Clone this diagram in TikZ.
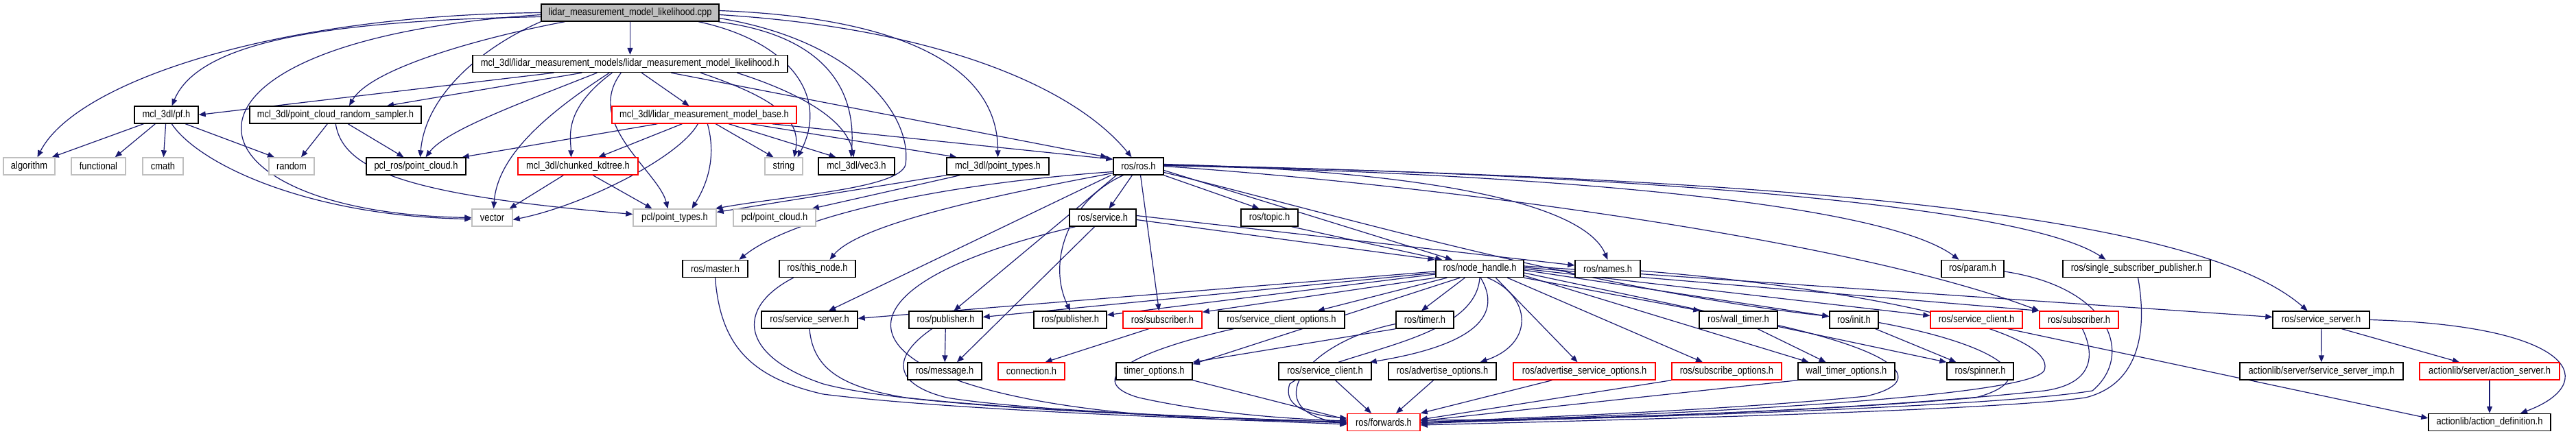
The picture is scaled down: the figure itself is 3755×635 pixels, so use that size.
\documentclass[tikz,border=0pt]{standalone}
\usepackage{fontspec}
\newfontfamily\dfont{Liberation Sans}[FakeStretch=0.86]
\usetikzlibrary{arrows.meta}
\definecolor{edgec}{RGB}{25,25,112}
\definecolor{greyb}{RGB}{191,191,191}
\pgfdeclarelayer{bg}
\pgfsetlayers{bg,main}
\tikzset{
 bx/.style={rectangle, draw, line width=1.4pt, minimum height=25pt, inner sep=0pt, fill=white, font=\dfont\fontsize{15}{18}\selectfont, text=black},
 nb/.style={bx, draw=black},
 ng/.style={bx, draw=greyb},
 nr/.style={bx, draw=red},
 nroot/.style={bx, draw=black, fill=greyb},
 e/.style={draw=edgec, line width=1.2pt, -{Triangle[length=10pt,width=8pt]}}
}
\begin{document}
\begin{tikzpicture}[x=1pt,y=-1pt]
\useasboundingbox (0,0) rectangle (3755,635);
\begin{pgfonlayer}{bg}
\fill[white] (0,0) rectangle (3755,635);
\end{pgfonlayer}
% nodes
\node[nroot, minimum width=259pt] (root) at (918.5,18.5) {lidar\_measurement\_model\_likelihood.cpp};
\node[nb, minimum width=459pt] (lmh) at (918.5,93) {mcl\_3dl/lidar\_measurement\_models/lidar\_measurement\_model\_likelihood.h};
\node[nb, minimum width=93pt] (pf) at (242.5,167.5) {mcl\_3dl/pf.h};
\node[nb, minimum width=250pt] (prs) at (489,167.5) {mcl\_3dl/point\_cloud\_random\_sampler.h};
\node[nr, minimum width=269pt] (base) at (1026.5,167.5) {mcl\_3dl/lidar\_measurement\_model\_base.h};
\node[ng, minimum width=75pt] (algorithm) at (42.5,242.5) {algorithm};
\node[ng, minimum width=79pt] (functional) at (143.5,242.5) {functional};
\node[ng, minimum width=59pt] (cmath) at (237.5,242.5) {cmath};
\node[ng, minimum width=66pt] (random) at (425,242.5) {random};
\node[nb, minimum width=145pt] (pclros) at (606.5,242.5) {pcl\_ros/point\_cloud.h};
\node[nr, minimum width=175pt] (kdtree) at (842.5,242.5) {mcl\_3dl/chunked\_kdtree.h};
\node[ng, minimum width=55pt] (string) at (1142.5,242.5) {string};
\node[nb, minimum width=111pt] (vec3) at (1248.5,242.5) {mcl\_3dl/vec3.h};
\node[nb, minimum width=149pt] (mpt) at (1454.5,242.5) {mcl\_3dl/point\_types.h};
\node[nb, minimum width=73pt] (ros) at (1659.5,242.5) {ros/ros.h};
\node[ng, minimum width=59pt] (vector) at (717.5,317.5) {vector};
\node[ng, minimum width=121pt] (pclpt) at (983.5,317.5) {pcl/point\_types.h};
\node[ng, minimum width=120pt] (pclpc) at (1129,317.5) {pcl/point\_cloud.h};
\node[nb, minimum width=97pt] (service) at (1607.5,317.5) {ros/service.h};
\node[nb, minimum width=83pt] (topic) at (1850.5,317.5) {ros/topic.h};
\node[nb, minimum width=95pt] (master) at (1042.5,392) {ros/master.h};
\node[nb, minimum width=111pt] (thisnode) at (1191.5,392) {ros/this\_node.h};
\node[nb, minimum width=128pt] (nh) at (2157,392) {ros/node\_handle.h};
\node[nb, minimum width=95pt] (names) at (2343.5,392) {ros/names.h};
\node[nb, minimum width=91pt] (param) at (2875.5,392) {ros/param.h};
\node[nb, minimum width=215pt] (ssp) at (3114.5,392) {ros/single\_subscriber\_publisher.h};
\node[nb, minimum width=140pt] (ssA) at (1180,466.5) {ros/service\_server.h};
\node[nb, minimum width=107pt] (pubA) at (1378.5,466.5) {ros/publisher.h};
\node[nb, minimum width=106pt] (pubB) at (1560,466.5) {ros/publisher.h};
\node[nr, minimum width=115pt] (subA) at (1694.5,466.5) {ros/subscriber.h};
\node[nb, minimum width=184pt] (sco) at (1868,466.5) {ros/service\_client\_options.h};
\node[nb, minimum width=84pt] (timer) at (2077,466.5) {ros/timer.h};
\node[nb, minimum width=114pt] (wtimer) at (2534,466.5) {ros/wall\_timer.h};
\node[nb, minimum width=71pt] (init) at (2702.5,466.5) {ros/init.h};
\node[nr, minimum width=134pt] (scB) at (2881,466.5) {ros/service\_client.h};
\node[nr, minimum width=115pt] (subB) at (3030.5,466.5) {ros/subscriber.h};
\node[nb, minimum width=141pt] (ssB) at (3383.5,466.5) {ros/service\_server.h};
\node[nb, minimum width=108pt] (message) at (1377,541.5) {ros/message.h};
\node[nr, minimum width=97pt] (connection) at (1503.5,541.5) {connection.h};
\node[nb, minimum width=111pt] (timeropt) at (1682.5,541.5) {timer\_options.h};
\node[nb, minimum width=135pt] (scA) at (1931.5,541.5) {ros/service\_client.h};
\node[nb, minimum width=157pt] (advopt) at (2102.5,541.5) {ros/advertise\_options.h};
\node[nr, minimum width=207pt] (advsrv) at (2309.5,541.5) {ros/advertise\_service\_options.h};
\node[nr, minimum width=160pt] (subopt) at (2517,541.5) {ros/subscribe\_options.h};
\node[nb, minimum width=141pt] (wtopt) at (2691.5,541.5) {wall\_timer\_options.h};
\node[nb, minimum width=97pt] (spinner) at (2886.5,541.5) {ros/spinner.h};
\node[nb, minimum width=238pt] (ssimp) at (3384,541.5) {actionlib/server/service\_server\_imp.h};
\node[nr, minimum width=204pt] (actsrv) at (3629,541.5) {actionlib/server/action\_server.h};
\node[nr, minimum width=106pt] (fwd) at (2017,616) {ros/forwards.h};
\node[nb, minimum width=178pt] (actdef) at (3629,616) {actionlib/action\_definition.h};

\begin{pgfonlayer}{bg}
% root
\draw[e] (root) -- (lmh);
\draw[e] (root.west) .. controls (400,22) and (110,120) .. ([xshift=12pt]algorithm.north);
\draw[e] ([yshift=-6pt]root.west) .. controls (480,30) and (290,60) .. ([xshift=8pt]pf.north);
\draw[e] ([xshift=35pt]root.south west) .. controls (700,55) and (540,100) .. ([xshift=20pt]prs.north);
\draw[e] (root.south west) .. controls (700,70) and (620,140) .. ([xshift=6pt]pclros.north);
\draw[e] ([yshift=-3pt]root.west) .. controls (200,60) and (250,310) .. (vector.west);
\draw[e] ([xshift=230pt]root.south west) .. controls (1150,60) and (1210,140) .. ([xshift=20pt]string.north);
\draw[e] ([xshift=-2pt]root.south east) .. controls (1190,50) and (1250,120) .. ([xshift=-8pt]vec3.north);
\draw[e] ([yshift=3pt]root.east) .. controls (1300,25) and (1455,90) .. (mpt.north);
\draw[e] ([yshift=-3pt]root.east) .. controls (1350,40) and (1560,120) .. ([xshift=-10pt]ros.north);
\draw[e] ([yshift=-8pt]root.east) .. controls (1250,60) and (1330,170) .. (1320,240) .. controls (1312,275) and (1150,285) .. ([xshift=-2pt]pclpt.north east);
% lmh
\draw[e] ([xshift=119pt]lmh.south west) -- (pf.east);
\draw[e] ([xshift=160pt]lmh.south west) -- ([xshift=75pt]prs.north);
\draw[e] ([xshift=182pt]lmh.south west) .. controls (760,150) and (650,190) .. ([xshift=14pt]pclros.north);
\draw[e] ([xshift=200pt]lmh.south west) .. controls (790,170) and (725,230) .. ([xshift=2pt]vector.north);
\draw[e] ([xshift=204pt]lmh.south west) .. controls (820,160) and (832,200) .. ([xshift=-10pt]kdtree.north);
\draw[e] ([xshift=217pt]lmh.south west) .. controls (850,180) and (960,250) .. ([xshift=-10pt]pclpt.north);
\draw[e] ([xshift=247pt]lmh.south west) -- ([xshift=-22pt]base.north);
\draw[e] ([xshift=290pt]lmh.south west) -- ([xshift=-8pt]ros.north west);
\draw[e] ([xshift=333pt]lmh.south west) .. controls (1120,140) and (1170,170) .. ([xshift=15pt]string.north);
\draw[e] ([xshift=386pt]lmh.south west) .. controls (1180,140) and (1235,180) .. ([xshift=-4pt]vec3.north);
% base
\draw[e] ([xshift=67pt]base.south west) -- ([xshift=-6pt]pclros.north east);
\draw[e] ([xshift=103pt]base.south west) -- ([xshift=30pt]kdtree.north);
\draw[e] ([xshift=126pt]base.south west) .. controls (990,230) and (850,300) .. ([yshift=-3pt]vector.east);
\draw[e] ([xshift=140pt]base.south west) .. controls (1045,230) and (1030,270) .. ([xshift=25pt]pclpt.north);
\draw[e] ([xshift=152pt]base.south west) -- ([xshift=-15pt]string.north);
\draw[e] ([xshift=171pt]base.south west) -- ([xshift=-30pt]vec3.north);
\draw[e] ([xshift=203pt]base.south west) -- ([xshift=-60pt]mpt.north);
\draw[e] ([xshift=234pt]base.south west) -- ([yshift=-3pt]ros.north west);
% pf
\draw[e] ([xshift=14pt]pf.south west) -- ([xshift=-5pt]algorithm.north east);
\draw[e] ([xshift=31pt]pf.south west) -- ([xshift=-16pt]functional.north east);
\draw[e] (pf) -- (cmath);
\draw[e] ([xshift=75pt]pf.south west) -- ([xshift=-25pt]random.north);
\draw[e] ([xshift=55pt]pf.south west) .. controls (290,240) and (450,315) .. ([yshift=-2pt]vector.west);
% prs
\draw[e] ([xshift=114pt]prs.south west) -- ([xshift=14pt]random.north);
\draw[e] ([xshift=144pt]prs.south west) -- ([xshift=-18pt]pclros.north);
\draw[e] ([xshift=126pt]prs.south west) .. controls (500,250) and (600,285) .. ([yshift=5pt]pclpt.west);
% kdtree
\draw[e] ([xshift=67pt]kdtree.south west) -- ([xshift=-5pt]vector.north east);
\draw[e] ([xshift=110pt]kdtree.south west) -- ([xshift=-33pt]pclpt.north);
% mpt
\draw[e] (mpt.south west) -- ([yshift=8pt]pclpt.east);
\draw[e] ([xshift=20pt]mpt.south west) -- ([xshift=-6pt]pclpc.north east);
% ros
\draw[e] (ros) -- (service);
\draw[e] (ros.south east) -- ([xshift=-15pt]topic.north);
\draw[e] ([yshift=-8pt]ros.west) .. controls (1350,270) and (1150,320) .. ([xshift=35pt]master.north);
\draw[e] ([yshift=-10pt]ros.west) .. controls (1420,290) and (1250,330) .. ([xshift=18pt]thisnode.north);
\draw[e] ([xshift=-3pt]ros.south west) -- ([xshift=28pt]ssA.north);
\draw[e] ([xshift=5pt]ros.south west) -- ([xshift=12pt]pubA.north);
\draw[e] ([xshift=15pt]ros.south west) .. controls (1560,290) and (1525,380) .. (pubB.north);
\draw[e] ([xshift=3pt]ros.south) -- ([xshift=-5pt]subA.north);
\draw[e] ([yshift=-6pt]ros.east) -- ([xshift=-40pt]nh.north);
\draw[e] ([yshift=3pt]ros.east) .. controls (2100,250) and (2310,300) .. (names.north);
\draw[e] ([yshift=-9pt]ros.east) .. controls (1900,300) and (2300,420) .. ([yshift=5pt]init.west);
\draw[e] (ros.east) .. controls (2100,270) and (2700,350) .. (subB.north west);
\draw[e] ([yshift=1pt]ros.east) .. controls (2300,255) and (2750,300) .. ([xshift=-20pt]param.north);
\draw[e] ([yshift=2pt]ros.east) .. controls (2400,255) and (2950,300) .. ([xshift=-45pt]ssp.north);
\draw[e] ([yshift=1.5pt]ros.east) .. controls (2600,260) and (3200,310) .. ([xshift=-20pt]ssB.north);
% service, topic
\draw[e] ([xshift=-12pt]service.south) -- ([xshift=18pt]message.north);
\draw[e] ([xshift=-40pt]service.south) .. controls (1100,440) and (1250,620) .. ([yshift=2pt]fwd.west);
\draw[e] ([yshift=3pt]service.east) -- ([yshift=5pt]names.west);
\draw[e] ([yshift=-3pt]service.east) -- ([xshift=-1pt]nh.north west);
\draw[e] ([xshift=-10pt]topic.south east) -- ([xshift=-55pt]nh.north);
% left side to forwards
\draw[e] (master.south) .. controls (1050,500) and (1090,550) .. (1200,575) .. controls (1400,600) and (1800,612) .. ([yshift=-3pt]fwd.west);
\draw[e] ([xshift=-35pt]thisnode.south) .. controls (1070,450) and (1080,520) .. (1200,560) .. controls (1350,600) and (1800,608) .. ([yshift=-1pt]fwd.west);
\draw[e] (ssA.south) .. controls (1185,540) and (1230,565) .. (1320,580) .. controls (1500,600) and (1800,610) .. ([yshift=-1pt]fwd.west);
\draw[e] ([xshift=-20pt]pubA.south) .. controls (1300,520) and (1300,560) .. (1380,580) .. controls (1500,600) and (1800,610) .. (fwd.west);
\draw[e] (pubA) -- (message);
\draw[e] ([xshift=-20pt]subA.south) -- ([xshift=20pt]connection.north);
\draw[e] ([xshift=-70pt]sco.south) .. controls (1620,520) and (1590,560) .. (1660,580) .. controls (1750,600) and (1850,610) .. ([yshift=2pt]fwd.west);
\draw[e] (timeropt.south east) -- ([yshift=4pt]fwd.west);
\draw[e] (timer.south west) -- (timeropt.north east);
\draw[e] ([yshift=-6pt]timer.west) .. controls (1900,500) and (1830,600) .. ([yshift=-2pt]fwd.west);
% node_handle
\draw[e] ([xshift=36pt]nh.south west) -- ([yshift=-3pt]timeropt.north east);
\draw[e] (nh.south) .. controls (2150,500) and (1950,510) .. (1880,560) .. controls (1870,590) and (1900,605) .. ([yshift=6pt]fwd.west);
\draw[e] ([yshift=-4pt]nh.west) -- ([yshift=2pt]ssA.east);
\draw[e] ([yshift=-6pt]nh.west) -- ([yshift=4pt]pubA.east);
\draw[e] ([yshift=-8pt]nh.west) -- ([yshift=7pt]pubB.east);
\draw[e] (nh.south west) -- ([yshift=-2pt]subA.north east);
\draw[e] ([xshift=17pt]nh.south west) -- ([xshift=-40pt]sco.north east);
\draw[e] ([xshift=43pt]nh.south west) -- ([xshift=-5pt]timer.north);
\draw[e] ([xshift=66pt]nh.south west) .. controls (2185,450) and (2170,500) .. ([xshift=-3pt]scA.north east);
\draw[e] ([xshift=76pt]nh.south west) .. controls (2230,430) and (2240,500) .. ([xshift=55pt]advopt.north);
\draw[e] ([xshift=88pt]nh.south west) -- ([xshift=-10pt]advsrv.north);
\draw[e] ([xshift=105pt]nh.south west) -- ([xshift=-35pt]subopt.north);
\draw[e] (nh.south east) -- ([xshift=2pt]wtimer.north west);
\draw[e] ([yshift=-10pt]nh.east) -- ([xshift=-55pt]wtopt.north);
\draw[e] ([yshift=-6pt]nh.east) -- (spinner.north west);
\draw[e] ([yshift=-2pt]nh.east) -- ([yshift=5pt]init.west);
\draw[e] (nh.east) -- ([yshift=6pt]scB.west);
\draw[e] ([yshift=2pt]nh.east) -- (subB.north west);
\draw[e] ([yshift=4pt]nh.east) -- ([yshift=4pt]ssB.west);
% bottom row to forwards
\draw[e] ([xshift=15pt]scA.south) -- ([xshift=-18pt]fwd.north);
\draw[e] ([xshift=-13pt]advopt.south) -- ([xshift=18pt]fwd.north);
\draw[e] ([xshift=-47pt]advsrv.south) -- (fwd.north east);
\draw[e] (subopt.south west) -- ([yshift=4pt]fwd.east);
\draw[e] (wtopt.south west) -- ([yshift=2pt]fwd.east);
\draw[e] ([xshift=28pt]wtimer.south) -- ([xshift=-30pt]wtopt.north);
\draw[e] ([yshift=-8pt]wtimer.east) .. controls (2790,520) and (2800,560) .. (2720,578) .. controls (2500,600) and (2200,610) .. (fwd.east);
\draw[e] ([xshift=-5pt]init.south east) -- ([xshift=-35pt]spinner.north);
\draw[e] ([yshift=-4pt]init.east) .. controls (2900,500) and (2990,550) .. (2880,580) .. controls (2600,605) and (2200,612) .. ([yshift=-2pt]fwd.east);
\draw[e] ([yshift=-3pt]names.east) .. controls (2700,420) and (3000,480) .. (2980,540) .. controls (2960,585) and (2300,610) .. (fwd.east);
\draw[e] ([xshift=5pt]subB.south) .. controls (3055,520) and (3050,560) .. (2980,570) .. controls (2700,600) and (2300,612) .. ([yshift=3pt]fwd.east);
\draw[e] ([yshift=-4pt]param.east) .. controls (3080,420) and (3110,520) .. (3050,570) .. controls (2900,595) and (2300,612) .. (fwd.east);
\draw[e] ([xshift=2pt]ssp.south) .. controls (3130,480) and (3120,560) .. (3040,580) .. controls (2900,600) and (2300,614) .. ([yshift=-4pt]fwd.east);
\draw[e] ([xshift=46pt]scB.south) -- ([yshift=6pt]actdef.west);
% actionlib
\draw[e] (ssB) -- (ssimp);
\draw[e] ([xshift=30pt]ssB.south) -- ([xshift=-44pt]actsrv.north);
\draw[e] (ssB.east) .. controls (3760,475) and (3790,560) .. ([xshift=45pt]actdef.north);
\draw[e] (actsrv) -- (actdef);
\end{pgfonlayer}
\end{tikzpicture}
\end{document}
